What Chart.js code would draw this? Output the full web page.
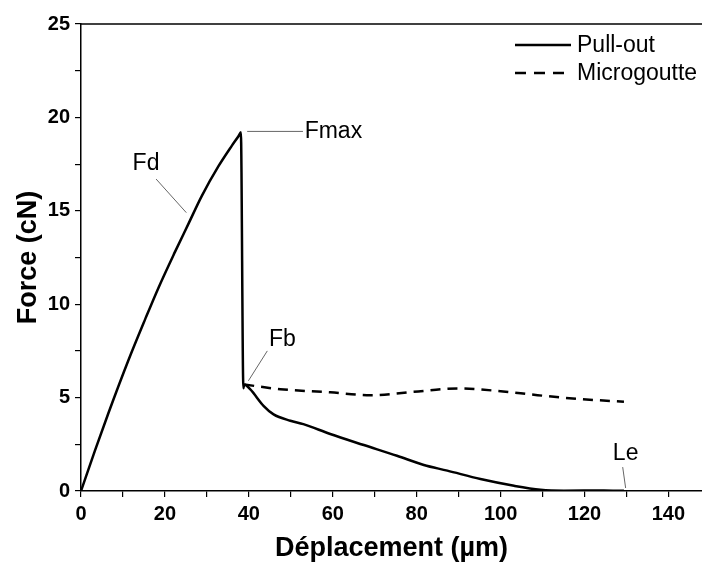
<!DOCTYPE html>
<html>
<head>
<meta charset="utf-8">
<script src="https://cdn.jsdelivr.net/npm/chart.js@4.4.1/dist/chart.umd.min.js"></script>
<style>
  html, body { margin: 0; padding: 0; background: #fff; }
  #wrap { width: 702px; height: 566px; position: relative; }
</style>
</head>
<body>
<div id="wrap"><canvas id="c" width="702" height="566"></canvas></div>
<script>
// ---- Data ----
const seriesNames = ['Pull-out', 'Microgoutte'];
const pullX = [0, 3.3, 6.5, 11.3, 15.3, 18.5, 22.4, 25.6, 28.8, 32.8, 36.0, 37.6, 38.1, 38.7, 38.9, 40.3, 43.5, 45.9, 49.9, 53.0, 59.4, 67.4, 75.3, 81.7, 87.3, 95.2, 103.2, 109.5, 115.1, 124.6, 129.4];
const pullY = [0, 2.15, 4.15, 7.0, 9.2, 10.9, 12.8, 14.3, 15.8, 17.4, 18.5, 19.02, 19.2, 5.5, 5.7, 5.45, 4.56, 4.1, 3.76, 3.58, 3.05, 2.46, 1.89, 1.39, 1.09, 0.64, 0.28, 0.07, 0.02, 0.03, 0.01];
const microX = [38.9, 47.5, 59.4, 69.0, 79.3, 89.7, 99.2, 108.8, 119.1, 129.4];
const microY = [5.7, 5.45, 5.28, 5.13, 5.31, 5.49, 5.36, 5.13, 4.92, 4.78];
const xTickLabels = [0, 20, 40, 60, 80, 100, 120, 140];
const yTickLabels = [0, 5, 10, 15, 20, 25];
const annotations = [
  { text: 'Fmax', at: [53.3, 19.25], align: 'left', line: [[39.6, 19.25], [52.9, 19.25]] },
  { text: 'Fd', at: [15.5, 17.5], align: 'center', line: [[17.9, 16.7], [25.1, 14.9]] },
  { text: 'Fb', at: [48.0, 8.1], align: 'center', line: [[44.4, 7.5], [39.9, 5.9]] },
  { text: 'Le', at: [129.8, 1.98], align: 'center', line: [[129.1, 1.28], [129.8, 0.16]] }
];

const FONT = '"Liberation Sans", Arial, sans-serif';
const toPts = (xs, ys) => xs.map((x, i) => ({ x: x, y: ys[i] }));

const frame = {
  id: 'frame',
  afterDraw(chart) {
    const { ctx, chartArea } = chart;
    ctx.save();
    ctx.strokeStyle = '#000';
    ctx.lineWidth = 1.5;
    ctx.beginPath();
    ctx.moveTo(chartArea.left, chartArea.top);
    ctx.lineTo(chartArea.right, chartArea.top);
    ctx.stroke();
    ctx.restore();
  }
};

const notes = {
  id: 'notes',
  afterDatasetsDraw(chart) {
    const { ctx, scales: { x, y } } = chart;
    ctx.save();
    annotations.forEach(a => {
      ctx.strokeStyle = '#666';
      ctx.lineWidth = 1;
      ctx.setLineDash([]);
      ctx.beginPath();
      ctx.moveTo(x.getPixelForValue(a.line[0][0]), y.getPixelForValue(a.line[0][1]));
      ctx.lineTo(x.getPixelForValue(a.line[1][0]), y.getPixelForValue(a.line[1][1]));
      ctx.stroke();
      ctx.fillStyle = '#000';
      ctx.font = '23px ' + FONT;
      ctx.textAlign = a.align;
      ctx.textBaseline = 'middle';
      ctx.fillText(a.text, x.getPixelForValue(a.at[0]), y.getPixelForValue(a.at[1]));
    });
    ctx.restore();
  }
};

const legendPlug = {
  id: 'legendPlug',
  afterDraw(chart) {
    const { ctx } = chart;
    ctx.save();
    chart.data.datasets.forEach((ds, i) => {
      const yy = 45 + i * 28;
      ctx.strokeStyle = '#000';
      ctx.lineWidth = 2.5;
      ctx.setLineDash(ds.borderDash ? [11, 8] : []);
      ctx.beginPath();
      ctx.moveTo(515, yy);
      ctx.lineTo(571, yy);
      ctx.stroke();
      ctx.setLineDash([]);
      ctx.fillStyle = '#000';
      ctx.font = '23px ' + FONT;
      ctx.textAlign = 'left';
      ctx.textBaseline = 'middle';
      ctx.fillText(ds.label, 577, yy + 1);
    });
    ctx.restore();
  }
};

new Chart(document.getElementById('c'), {
  type: 'line',
  data: {
    datasets: [
      { label: seriesNames[0], data: toPts(pullX, pullY), borderColor: '#000', borderWidth: 2.5,
        pointRadius: 0, cubicInterpolationMode: 'monotone', borderJoinStyle: 'round', fill: false },
      { label: seriesNames[1], data: toPts(microX, microY), borderColor: '#000', borderWidth: 2.5,
        borderDash: [10, 7], pointRadius: 0, cubicInterpolationMode: 'monotone', fill: false }
    ]
  },
  options: {
    responsive: false,
    animation: false,
    devicePixelRatio: 1,
    layout: { padding: { top: 24, right: 0, bottom: 0, left: 0 } },
    plugins: { legend: { display: false }, tooltip: { enabled: false } },
    scales: {
      x: {
        type: 'linear', min: 0, max: 148,
        afterBuildTicks: s => {
          const t = [];
          for (let v = 0; v <= xTickLabels[xTickLabels.length - 1]; v += 10) t.push({ value: v });
          s.ticks = t;
        },
        afterFit: s => { s.height = 75; },
        grid: { display: true, drawOnChartArea: false, drawTicks: true, tickLength: 6, color: '#000', lineWidth: 1.2 },
        border: { display: true, color: '#000', width: 1.5 },
        ticks: {
          autoSkip: false, maxRotation: 0, padding: 5, color: '#000',
          font: { family: FONT, size: 20, weight: 'bold' },
          callback: v => xTickLabels.includes(v) ? String(v) : ''
        },
        title: { display: true, text: 'Déplacement (µm)', color: '#000',
          font: { family: FONT, size: 27, weight: 'bold', lineHeight: 1 }, padding: { top: 0, bottom: 4 } }
      },
      y: {
        type: 'linear', min: 0, max: 25,
        afterBuildTicks: s => {
          const t = [];
          for (let v = 0; v <= yTickLabels[yTickLabels.length - 1]; v += 2.5) t.push({ value: v });
          s.ticks = t;
        },
        afterFit: s => { s.width = 81; },
        grid: { display: true, drawOnChartArea: false, drawTicks: true, tickLength: 6, color: '#000', lineWidth: 1.2 },
        border: { display: true, color: '#000', width: 1.5 },
        ticks: {
          autoSkip: false, padding: 5, color: '#000',
          font: { family: FONT, size: 20, weight: 'bold' },
          callback: v => yTickLabels.includes(v) ? String(v) : ''
        },
        title: { display: true, text: 'Force (cN)', color: '#000',
          font: { family: FONT, size: 27, weight: 'bold', lineHeight: 1 }, padding: { top: 15, bottom: 0 } }
      }
    }
  },
  plugins: [frame, notes, legendPlug]
});
</script>
</body>
</html>
